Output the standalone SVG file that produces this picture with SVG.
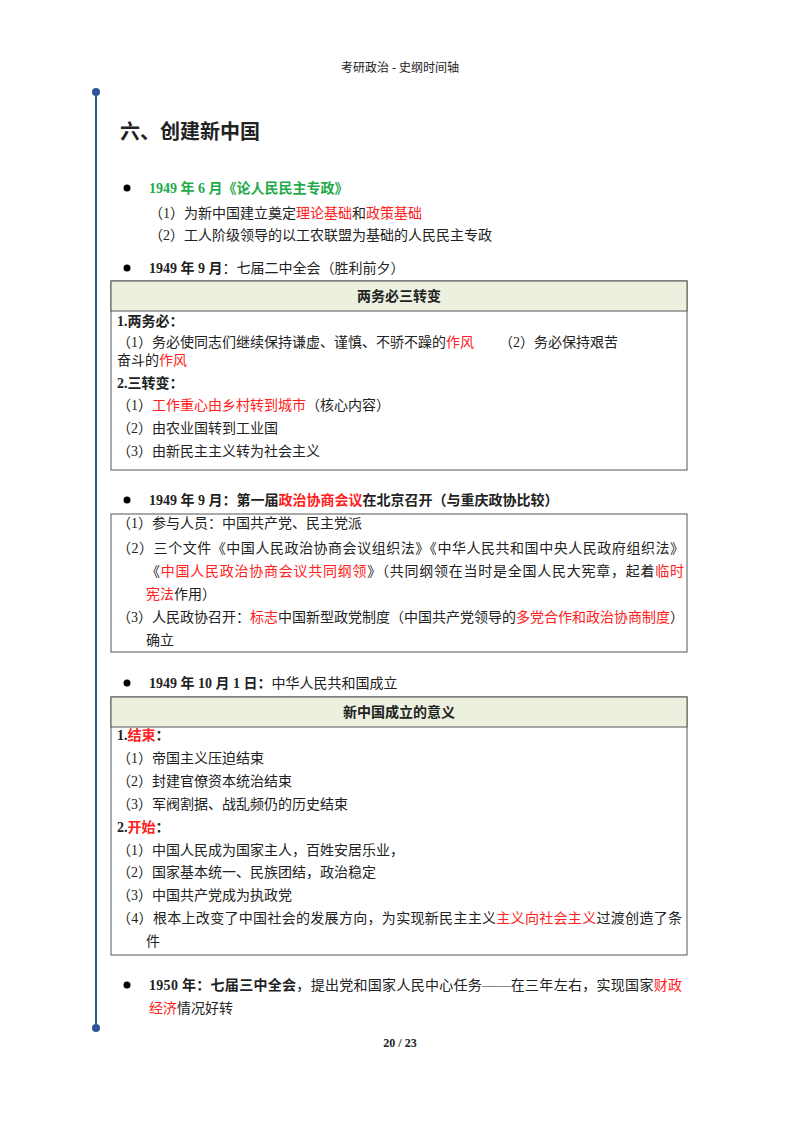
<svg xmlns="http://www.w3.org/2000/svg" width="800" height="1132" viewBox="0 0 800 1132">
<style>
text{font-family:"Liberation Serif","Noto Sans CJK SC",serif;font-size:14px;fill:#222}
.b{font-weight:bold}
.r{fill:#ff2020}
.g{fill:#1faa4a}
.hd{fill:#ebf1de;stroke:#555;stroke-width:1}
.bx{fill:none;stroke:#555;stroke-width:1}
</style>
<rect width="800" height="1132" fill="#fff"/>
<text x="400" y="72" text-anchor="middle" font-size="12" style="font-size:12px">考研政治 - 史纲时间轴</text>
<g id="timeline">
<line x1="96" y1="92" x2="96" y2="1028" stroke="#2f5597" stroke-width="2"/>
<circle cx="96" cy="92" r="4" fill="#2f5597"/>
<circle cx="96" cy="1028" r="4" fill="#2f5597"/>
</g>
<text x="120" y="139" class="b" style="font-size:20px">六、创建新中国</text>
<g id="bullets">
<circle cx="127" cy="188" r="3.5" fill="#000"/>
<circle cx="127" cy="268" r="3.5" fill="#000"/>
<circle cx="127" cy="500" r="3.5" fill="#000"/>
<circle cx="127" cy="683" r="3.5" fill="#000"/>
<circle cx="127" cy="985" r="3.5" fill="#000"/>
</g>
<g id="n1">
<text x="149" y="193" class="b g">1949 年 6 月《论人民民主专政》</text>
<text x="149" y="218">（1）为新中国建立奠定<tspan class="r">理论基础</tspan>和<tspan class="r">政策基础</tspan></text>
<text x="149" y="240">（2）工人阶级领导的以工农联盟为基础的人民民主专政</text>
</g>
<g id="n2">
<text x="149" y="273"><tspan class="b">1949 年 9 月</tspan>：七届二中全会（胜利前夕）</text>
<rect x="111" y="281" width="576" height="189" class="bx"/>
<rect x="111" y="281" width="576" height="30" class="hd"/>
<text x="399" y="301" text-anchor="middle" class="b">两务必三转变</text>
<text x="117" y="326" class="b">1.两务必：</text>
<text x="117" y="347">（1）务必使同志们继续保持谦虚、谨慎、不骄不躁的<tspan class="r">作风</tspan></text>
<text x="499" y="347">（2）务必保持艰苦</text>
<text x="117" y="365">奋斗的<tspan class="r">作风</tspan></text>
<text x="117" y="388" class="b">2.三转变：</text>
<text x="117" y="410">（1）<tspan class="r">工作重心由乡村转到城市</tspan>（核心内容）</text>
<text x="117" y="433">（2）由农业国转到工业国</text>
<text x="117" y="456">（3）由新民主主义转为社会主义</text>
</g>
<g id="n3">
<text x="149" y="505" class="b">1949 年 9 月：第一届<tspan class="r">政治协商会议</tspan>在北京召开（与重庆政协比较）</text>
<rect x="111" y="514" width="576" height="138" class="bx"/>
<text x="117" y="528">（1）参与人员：中国共产党、民主党派</text>
<text x="117" y="553" textLength="567">（2）三个文件《中国人民政治协商会议组织法》《中华人民共和国中央人民政府组织法》</text>
<text x="146" y="576" textLength="538">《<tspan class="r">中国人民政治协商会议共同纲领</tspan>》（共同纲领在当时是全国人民大宪章，起着<tspan class="r">临时</tspan></text>
<text x="146" y="599"><tspan class="r">宪法</tspan>作用）</text>
<text x="117" y="622" textLength="567">（3）人民政协召开：<tspan class="r">标志</tspan>中国新型政党制度（中国共产党领导的<tspan class="r">多党合作和政治协商制度</tspan>）</text>
<text x="146" y="645">确立</text>
</g>
<g id="n4">
<text x="149" y="688"><tspan class="b">1949 年 10 月 1 日：</tspan>中华人民共和国成立</text>
<rect x="111" y="697" width="576" height="258" class="bx"/>
<rect x="111" y="697" width="576" height="30" class="hd"/>
<text x="399" y="717" text-anchor="middle" class="b">新中国成立的意义</text>
<text x="117" y="740" class="b">1.<tspan class="r">结束</tspan>：</text>
<text x="117" y="763">（1）帝国主义压迫结束</text>
<text x="117" y="786">（2）封建官僚资本统治结束</text>
<text x="117" y="809">（3）军阀割据、战乱频仍的历史结束</text>
<text x="117" y="832" class="b">2.<tspan class="r">开始</tspan>：</text>
<text x="117" y="855">（1）中国人民成为国家主人，百姓安居乐业，</text>
<text x="117" y="877">（2）国家基本统一、民族团结，政治稳定</text>
<text x="117" y="900">（3）中国共产党成为执政党</text>
<text x="117" y="923" textLength="565">（4）根本上改变了中国社会的发展方向，为实现新民主主义<tspan class="r">主义向社会主义</tspan>过渡创造了条</text>
<text x="146" y="946">件</text>
</g>
<g id="n5">
<text x="149" y="990" textLength="533"><tspan class="b">1950 年：七届三中全会</tspan>，提出党和国家人民中心任务——在三年左右，实现国家<tspan class="r">财政</tspan></text>
<text x="149" y="1013"><tspan class="r">经济</tspan>情况好转</text>
</g>
<text x="400" y="1047" text-anchor="middle" class="b" style="font-size:12px">20 / 23</text>
</svg>
